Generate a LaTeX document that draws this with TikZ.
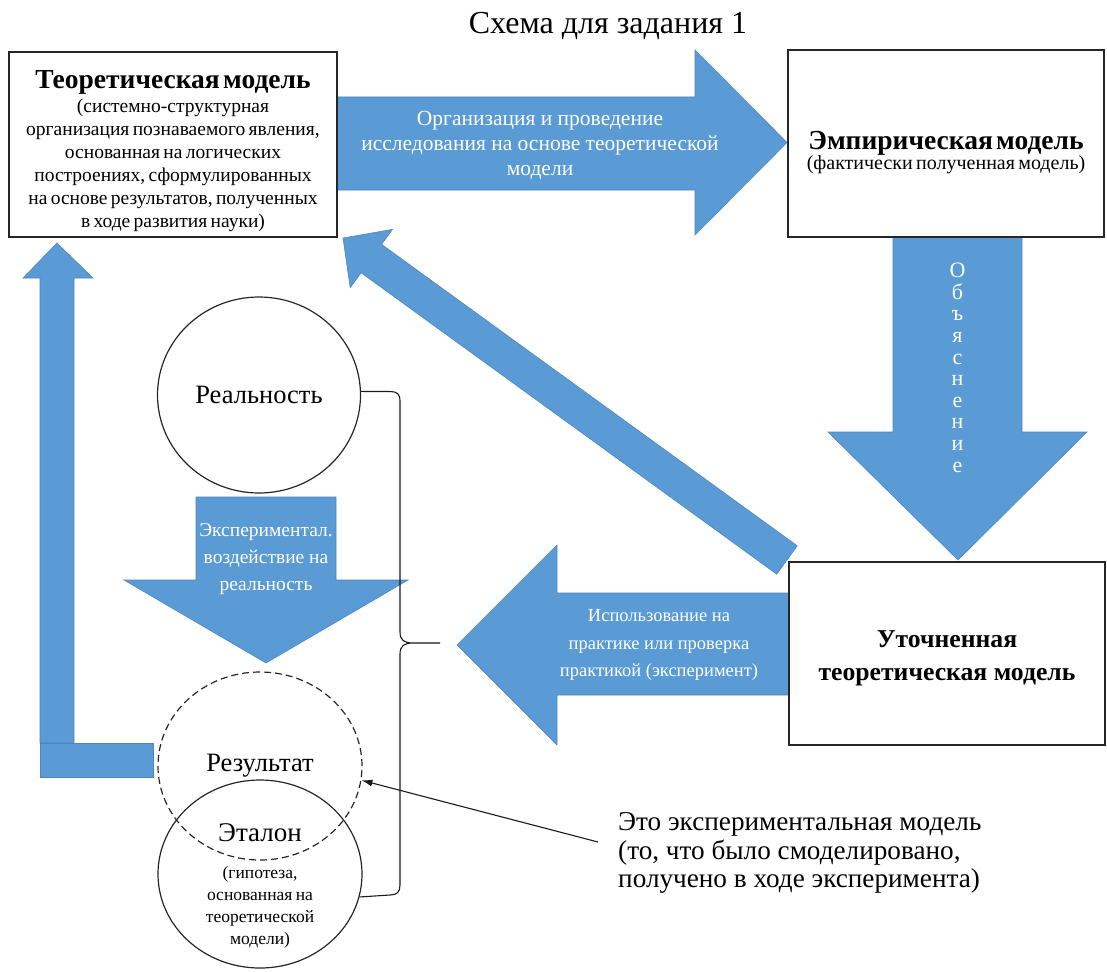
\documentclass[tikz,border=0pt]{standalone}
\usepackage{fontspec}
\setmainfont{Liberation Serif}
\usetikzlibrary{calc,arrows.meta,shapes.geometric}
\definecolor{blk}{HTML}{5B9BD5}
\definecolor{blkline}{HTML}{4D86BF}
\tikzset{
  blockarrow/.style={fill=blk, draw=blkline, line width=0.6pt},
  modelbox/.style={draw=black!85, line width=1.3pt, fill=white, inner sep=0pt, align=center},
  arrowtext/.style={text=white, align=center, inner sep=0pt},
  circ/.style={ellipse, draw=black!85, line width=1.2pt, inner sep=0pt},
  bracestyle/.style={draw=black!90, line width=1.1pt},
}
\begin{document}
\begin{tikzpicture}[x=1pt,y=-1pt]
\useasboundingbox (0,0) rectangle (1107,971);

% title
\node[anchor=base, font=\fontsize{32}{38}\selectfont, inner sep=0pt] (title) at (608,34) {Схема для задания 1};

% top arrow
\draw[blockarrow] (337,97) -- (695,97) -- (695,50) -- (787,142.5) -- (695,235) -- (695,190) -- (337,190) -- cycle;
\node[arrowtext, font=\fontsize{21.5}{25}\selectfont] (t1) at (540,145) {Организация и проведение\\исследования на основе теоретической\\модели};

% vertical arrow
\draw[blockarrow] (893,237) -- (1022,237) -- (1022,432) -- (1087,432) -- (958,560) -- (828,432) -- (893,432) -- cycle;
\node[arrowtext, anchor=north, font=\fontsize{22}{21.6}\selectfont] (obj) at (957.5,263) {О\\б\\ъ\\я\\с\\н\\е\\н\\и\\е};

% diagonal arrow
\coordinate (dT) at (787,560);
\coordinate (dP) at (343,238);
\coordinate (dH) at ($(dP)!35pt!(dT)$);
\draw[blockarrow] ($(dT)!17.5pt!90:(dP)$) -- ($(dH)!17.5pt!90:(dP)$) -- ($(dH)!36pt!90:(dP)$) -- (dP)
  -- ($(dH)!36pt!-90:(dP)$) -- ($(dH)!17.5pt!-90:(dP)$) -- ($(dT)!17.5pt!-90:(dP)$) -- cycle;

% left arrow
\draw[blockarrow] (789,593) -- (557,593) -- (557,545) -- (457,645) -- (557,745) -- (557,695) -- (789,695) -- cycle;
\node[arrowtext, font=\fontsize{18.5}{27.5}\selectfont] (t3) at (659,645) {Использование на\\практике или проверка\\практикой (эксперимент)};

% left elbow arrow
\draw[blockarrow] (40,743) -- (40,278) -- (23,278) -- (57,243) -- (93,278) -- (74,278) -- (74,743) -- cycle;
\draw[blockarrow] (40,743) rectangle (153,777);

% down arrow
\draw[blockarrow] (196,497) -- (336,497) -- (336,580) -- (408,580) -- (266,663) -- (124,580) -- (196,580) -- cycle;
\node[arrowtext, font=\fontsize{19.5}{27}\selectfont] (t4) at (266,559) {Экспериментал.\\воздействие на\\реальность};

% boxes
\node[modelbox, minimum width=328, minimum height=185, text width=322] (theor) at (173,144.5)
  {\vskip2pt{\fontsize{27.5}{30}\selectfont\bfseries Теоретическая модель\par}\vskip1pt
   {\fontsize{19.5}{23}\selectfont (системно-структурная\\организация познаваемого явления,\\основанная на логических\\построениях, сформулированных\\на основе результатов, полученных\\в ходе развития науки)\par}};
\node[modelbox, minimum width=316, minimum height=187, text width=310] (emp) at (946,143.5)
  {\vskip6pt{\fontsize{27.5}{30}\selectfont\bfseries Эмпирическая модель\par}\vskip-4pt
   {\fontsize{20}{24}\selectfont (фактически полученная модель)\par}};
\node[modelbox, minimum width=316, minimum height=183] (refm) at (947,653.5) {};
\node[align=center, inner sep=0pt, font=\fontsize{25.7}{33}\selectfont\bfseries] (refmt) at (947,658.5)
  {Уточненная\\теоретическая модель};

% circles
\node[circ, minimum width=203, minimum height=196, font=\fontsize{26.5}{30}\selectfont] (real) at (259,395) {Реальность};
\node[circ, dashed, dash pattern=on 7pt off 4pt, minimum width=204, minimum height=188, font=\fontsize{26.5}{30}\selectfont] (res) at (260,766) {Результат};
\node[circ, minimum width=204, minimum height=188] (etal) at (260,874) {};
\node[align=center, inner sep=0pt, text width=200] (etalt) at (260,885.5)
  {{\fontsize{27}{30}\selectfont Эталон\par}\vskip15pt
   {\fontsize{17.5}{22}\selectfont (гипотеза,\\основанная на\\теоретической\\модели)\par}};

% brace
\coordinate (bracetip) at (440,643);
\draw[bracestyle] (real.2) -- (390,391.5) .. controls (397,391.5) and (400,394) .. (400,401) -- (400,632)
  .. controls (400,640) and (404,643) .. (413,643) -- (bracetip)
  (413,643) .. controls (404,643) and (400,646) .. (400,654) -- (400,885)
  .. controls (400,892) and (397,895) .. (390,895) -- (etal.-13);

% annotation
\node[anchor=west, align=left, inner sep=0pt, font=\fontsize{27.2}{28.5}\selectfont] (note) at (618,853)
  {Это экспериментальная модель\\(то, что было смоделировано,\\получено в ходе эксперимента)};
\coordinate (noteend) at (598,842);
\draw[-{Latex[length=11pt,width=7pt]}, line width=1.1pt, black!90] (noteend) -- (res.-8);
\end{tikzpicture}
\end{document}
